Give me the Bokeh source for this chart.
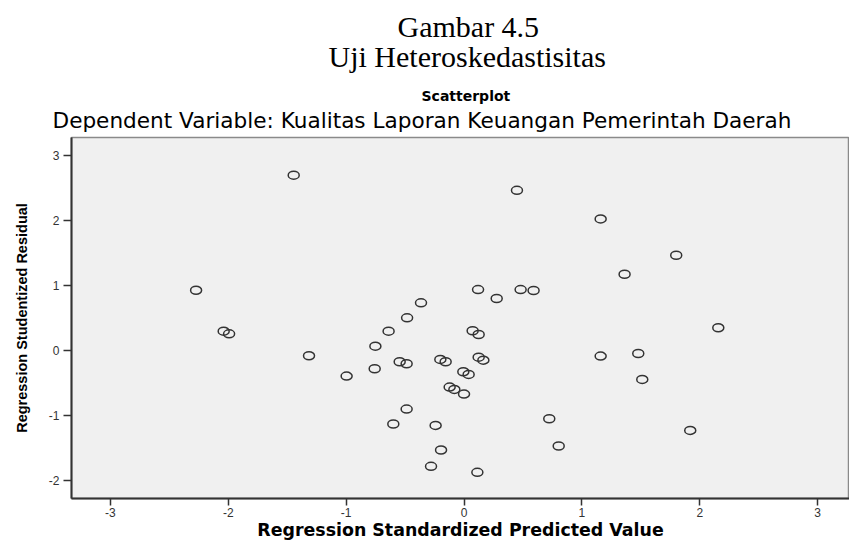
from bokeh.plotting import figure
from bokeh.models import Range1d, FixedTicker, ColumnDataSource, Title, CustomJSTickFormatter
from bokeh.embed import file_html
from bokeh.resources import INLINE

# --- data ---
pred = [-1.445, -2.273, 0.449, -0.365, -0.483, 0.119, 0.277, 0.480, 0.590,
        1.159, 1.800, 1.362, -2.039, -1.993, -1.315, -0.996, -0.752, -0.758,
        -0.640, -0.546, -0.487, -0.487, -0.600, -0.201, -0.156, 0.073, 0.124,
        0.124, 0.164, -0.006, 0.039, -0.122, -0.082, 0.000, -0.241, -0.195,
        -0.280, 0.113, 0.723, 0.803, 1.159, 1.478, 1.512, 2.157, 1.919]
resid = [2.700, 0.928, 2.466, 0.733, 0.502, 0.938, 0.800, 0.938, 0.923,
         2.026, 1.467, 1.174, 0.297, 0.256, -0.082, -0.395, 0.066, -0.282,
         0.297, -0.174, -0.205, -0.903, -1.133, -0.138, -0.174, 0.303, 0.246,
         -0.103, -0.149, -0.328, -0.369, -0.564, -0.600, -0.672, -1.154, -1.533,
         -1.785, -1.877, -1.051, -1.472, -0.087, -0.046, -0.446, 0.349, -1.231]
x_ticks = [-3, -2, -1, 0, 1, 2, 3]
y_ticks = [-2, -1, 0, 1, 2, 3]

title_1 = "Gambar 4.5"
title_2 = "Uji Heteroskedastisitas"
title_3 = "Scatterplot"
subtitle = "Dependent Variable: Kualitas Laporan Keuangan Pemerintah Daerah"
x_label = "Regression Standardized Predicted Value"
y_label = "Regression Studentized Residual"

src = ColumnDataSource(dict(x=pred, y=resid))

p = figure(width=849, height=542, output_backend="svg", toolbar_location=None,
           x_range=Range1d(-3.33, 3.27), y_range=Range1d(-2.28, 3.28),
           min_border_left=71, min_border_right=0, min_border_top=137,
           min_border_bottom=44)

p.background_fill_color = "#f0f0f0"
p.border_fill_color = "white"
p.outline_line_color = "#8a8a8a"
p.outline_line_width = 1.5
p.xgrid.visible = False
p.ygrid.visible = False

fmt = CustomJSTickFormatter(code="return tick.toString();")
for ax, ticks in ((p.xaxis[0], x_ticks), (p.yaxis[0], y_ticks)):
    ax.ticker = FixedTicker(ticks=ticks)
    ax.formatter = fmt
    ax.axis_line_color = "#333333"
    ax.axis_line_width = 2
    ax.major_tick_line_color = "#333333"
    ax.major_tick_line_width = 1.5
    ax.major_tick_in = 0
    ax.minor_tick_line_color = None
    ax.major_label_text_font = "Liberation Sans"
    ax.major_label_text_font_size = "12px"
    ax.major_label_text_color = "#333333"
    ax.axis_label_text_color = "black"
    ax.axis_label_text_font_style = "bold"

p.xaxis.major_tick_out = 7
p.xaxis.major_label_standoff = 2
p.xaxis.axis_label = x_label
p.xaxis.axis_label_text_font = "DejaVu Sans"
p.xaxis.axis_label_text_font_size = "17.4px"
p.xaxis.axis_label_standoff = 0

p.yaxis.major_tick_out = 8
p.yaxis.major_label_standoff = 4
p.yaxis.axis_label = y_label
p.yaxis.axis_label_text_font = "Liberation Sans"
p.yaxis.axis_label_text_font_size = "14.5px"
p.yaxis.axis_label_standoff = 16

p.ellipse(x="x", y="y", width=11, height=8, width_units="screen",
          height_units="screen", source=src, fill_color=None,
          line_color="#333333", line_width=1.5)

# titles, closest to the plot first
p.add_layout(Title(text=subtitle, align="left", offset=-19, standoff=10,
                   text_font="DejaVu Sans", text_font_size="21.6px",
                   text_font_style="normal", text_color="black"), "above")
p.add_layout(Title(text=title_3, align="left", offset=350, standoff=-7,
                   text_font="DejaVu Sans", text_font_size="14px",
                   text_font_style="bold", text_color="black"), "above")
p.add_layout(Title(text=title_2, align="left", offset=257, standoff=34,
                   text_font="Liberation Serif", text_font_size="30px",
                   text_font_style="normal", text_color="black"), "above")
p.add_layout(Title(text=title_1, align="left", offset=326, standoff=-44,
                   text_font="Liberation Serif", text_font_size="30px",
                   text_font_style="normal", text_color="black"), "above")

open("out.html", "w").write(file_html(p, INLINE))
